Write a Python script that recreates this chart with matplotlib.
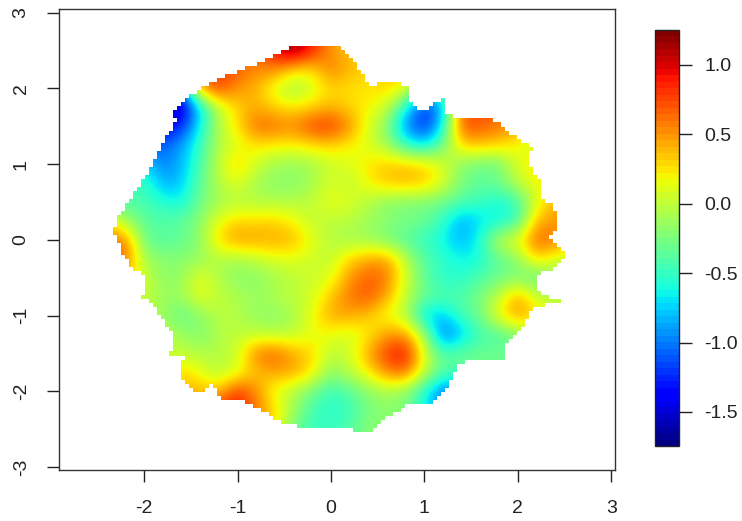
import matplotlib
matplotlib.use("Agg")
import matplotlib.pyplot as plt
from matplotlib.cm import ScalarMappable
from matplotlib.colors import Normalize
from matplotlib.path import Path
import numpy as np

plt.rcParams['font.family'] = ['Liberation Sans', 'DejaVu Sans']
plt.rcParams['axes.unicode_minus'] = False

# grid centres of the image
x_grid = [-2.4, -2.2, -2.0, -1.8, -1.6, -1.4, -1.2, -1.0, -0.8, -0.6, -0.4, -0.2, 0.0,
          0.2, 0.4, 0.6, 0.8, 1.0, 1.2, 1.4, 1.6, 1.8, 2.0, 2.2, 2.4, 2.6]
y_grid = [2.5, 2.25, 2.0, 1.75, 1.5, 1.25, 1.0, 0.75, 0.5, 0.25, 0.0, -0.25, -0.5, -0.75,
          -1.0, -1.25, -1.5, -1.75, -2.0, -2.25, -2.5]

# values, one row per y_grid entry
z_values = [
    [.5, .5, .5, .5, .5, .5, .6, .6, .6, 1.0, 1.25, .9, .5, .35, .3, .3, .3, .3, .3, .3, .3, .3, .3, .3, .3, .3],
    [.7, .7, .7, .7, .7, .7, .8, .7, .55, .55, .3, .25, .6, .4, .3, .3, .3, .3, .3, .3, .3, .3, .3, .3, .3, .3],
    [-1.2, -1.2, -1.2, -1.2, -1.2, .5, .8, .5, .4, .1, -.15, .05, .3, .25, .25, .3, .2, -.5, -.5, .5, .5, .5, .5, .5, .5, .5],
    [-1.5, -1.5, -1.5, -1.5, -1.6, -.75, 0, .3, .45, .3, .25, .3, .4, .3, .2, .05, -.6, -1.25, -.9, .7, .7, .7, .6, .5, .5, .5],
    [-1.4, -1.4, -1.4, -1.4, -1.3, -.65, -.05, .25, .65, .65, .55, .8, .85, .55, .1, -.2, -.95, -1.3, -.7, .75, .7, .6, .45, .2, .2, .2],
    [-1.1, -1.1, -1.1, -1.1, -.9, -.5, -.05, .1, .25, .2, .2, .25, .3, .2, .1, -.1, -.5, -.7, -.3, .3, .35, .3, .2, 0, 0, 0],
    [-.7, -.7, -.7, -1, -.85, -.45, 0, .35, .05, -.1, -.15, -.1, .05, .1, .25, .35, .35, .3, .1, -.2, -.3, -.3, .1, .3, .3, .3],
    [-.5, -.5, -.45, -.85, -.8, -.35, -.05, .12, -.1, -.2, -.2, -.1, .1, -.02, .2, .35, .4, .35, .1, -.25, -.35, -.3, 0, .15, .3, .3],
    [-.4, -.4, -.45, -.55, -.65, -.3, -.1, -.05, -.05, -.05, -.05, 0, .15, .12, -.05, -.2, -.25, -.25, -.3, -.4, -.5, -.6, -.5, .1, .4, .4],
    [.3, -.1, -.35, -.4, -.35, -.2, .15, .3, .3, .3, .2, 0, 0, -.05, -.1, -.2, -.25, -.3, -.5, -.9, -.7, -.65, -.5, .4, .5, .5],
    [.6, .6, -.3, -.4, -.35, -.2, .3, .5, .45, .45, .4, .15, -.05, -.1, -.15, -.25, -.4, -.5, -.65, -.85, -.6, .05, .15, .7, .6, .3],
    [.7, .7, -.1, -.2, -.2, -.15, -.05, -.1, 0, .1, .12, .05, 0, .3, .45, .5, 0, -.4, -.5, -.65, -.6, -.35, -.2, .3, .1, 0],
    [.3, .3, .1, -.2, -.15, .15, -.05, -.2, -.2, -.1, -.02, .05, .1, .5, .7, .6, .1, -.35, -.55, -.55, -.4, -.3, -.25, -.4, -.2, -.2],
    [0, 0, 0, -.1, -.15, .15, 0, -.05, -.15, -.05, 0, .05, .35, .6, .72, .45, 0, -.3, -.4, -.4, -.25, 0, .5, .05, 0, 0],
    [0, 0, 0, -.15, -.35, -.2, -.02, -.05, -.15, -.2, -.1, .15, .45, .45, .35, .12, 0, -.75, -.8, -.45, -.3, .2, .5, .3, 0, 0],
    [0, 0, 0, 0, -.1, -.25, -.05, 0, 0, -.02, 0, .15, .15, .05, .2, .5, .5, -.05, -1.1, -.8, -.45, -.45, -.25, 0, 0, 0],
    [0, 0, 0, 0, 0, -.05, -.05, .05, .6, .7, .45, .3, -.02, .05, .45, .8, 1.0, .1, -.4, -.3, -.3, -.3, -.3, 0, 0, 0],
    [0, 0, 0, 0, .35, .15, -.05, .1, .35, .45, .45, .25, -.2, -.02, .2, .55, .65, .05, -.4, -.4, -.3, -.3, -.3, 0, 0, 0],
    [0, 0, 0, 0, .4, .4, .35, .85, .55, .1, -.05, -.3, -.5, -.4, -.2, -.1, -.2, -.6, -1.05, -1.05, -.5, -.3, -.3, 0, 0, 0],
    [0, 0, 0, 0, .4, .5, .9, .95, .6, .3, -.1, -.45, -.55, -.5, -.25, -.2, -.2, -.6, -1, -1, -.5, -.3, -.3, 0, 0, 0],
    [0, 0, 0, 0, .4, .5, .6, .6, .5, .2, -.3, -.5, -.5, -.4, -.2, -.2, -.2, -.4, -.5, -.5, -.5, -.3, -.3, 0, 0, 0],
]

# outline of the coloured region
outline_x = [-.41, -.62, -.76, -1.06, -1.30, -1.43, -1.53, -1.72, -1.64, -1.80, -1.94, -2.15, -2.28, -2.32,
             -2.31, -2.21, -2.12, -1.99, -2.02, -1.92, -1.76, -1.70, -1.72, -1.58, -1.62, -1.43, -1.26, -1.22,
             -1.17, -.94, -.69, -.49, .06, .44, .56, .81, 1.06, 1.24, 1.30, 1.36, 1.86, 1.88, 2.04, 2.16, 2.47,
             2.21, 2.21, 2.42, 2.53, 2.34, 2.43, 2.38, 2.27, 2.24, 2.10, 2.15, 2.02, 1.81, 1.65, 1.31, 1.22,
             1.22, 1.13, .99, .85, .82, .60, .42, .20, .10, -.01]
outline_y = [2.56, 2.41, 2.34, 2.19, 2.05, 1.96, 1.89, 1.64, 1.59, 1.28, .93, .53, .29, .13,
             .07, -.24, -.37, -.50, -.79, -.83, -1.13, -1.26, -1.55, -1.52, -1.81, -2.03, -1.89, -2.03,
             -2.12, -2.12, -2.28, -2.45, -2.48, -2.54, -2.36, -2.19, -2.16, -1.96, -1.79, -1.62, -1.56, -1.35,
             -1.17, -.90, -.82, -.70, -.46, -.36, -.20, .03, .17, .46, .49, .75, 1.02, 1.21, 1.32, 1.52, 1.62,
             1.62, 1.66, 1.85, 1.81, 1.68, 1.79, 2.03, 2.09, 2.03, 2.41, 2.53, 2.56]

x_ticks = [-2, -1, 0, 1, 2, 3]
y_ticks = [-3, -2, -1, 0, 1, 2, 3]
bar_ticks = [-1.5, -1.0, -0.5, 0.0, 0.5, 1.0]
z_min = -1.745
z_max = 1.25

W, H = 742, 521
fig = plt.figure(figsize=(W / 100, H / 100), dpi=100)
ax = fig.add_axes([59 / W, 1 - 470 / H, (615 - 59) / W, (470 - 9) / H])

half_dx = (x_grid[1] - x_grid[0]) / 2
half_dy = (y_grid[0] - y_grid[1]) / 2
ax.imshow(np.array(z_values), cmap='jet', vmin=z_min, vmax=z_max, aspect='auto',
          interpolation='bicubic', origin='upper',
          extent=[x_grid[0] - half_dx, x_grid[-1] + half_dx, y_grid[-1] - half_dy, y_grid[0] + half_dy])

# white cover outside the outline, in coarse cells so the edge steps like the original
cell_x = np.arange(-2.912, 3.04, 0.0428)
cell_y = np.arange(-3.04, 3.05, 0.053)
xx, yy = np.meshgrid(cell_x, cell_y)
inside = Path(np.column_stack([outline_x, outline_y])).contains_points(np.column_stack([xx.ravel(), yy.ravel()]))
cover = np.ones(xx.shape + (4,))
cover[..., 3] = ~inside.reshape(xx.shape)
ax.imshow(cover, aspect='auto', interpolation='nearest', origin='lower',
          extent=[cell_x[0] - 0.0214, cell_x[-1] + 0.0214, cell_y[0] - 0.0265, cell_y[-1] + 0.0265])

ax.set_xlim(-2.912, 3.04)
ax.set_ylim(-3.04, 3.05)
ax.set_xticks(x_ticks)
ax.set_yticks(y_ticks)
ax.tick_params(axis='x', length=8.6, width=1, color='#222222', labelsize=14, labelcolor='#222222', pad=13)
ax.tick_params(axis='y', length=8.6, width=1, color='#222222', labelsize=14, labelcolor='#222222', pad=12.5)
for label in ax.get_yticklabels():
    label.set_rotation(90)
    label.set_va('center')
for spine in ax.spines.values():
    spine.set_linewidth(1)
    spine.set_color('#333333')

cax = fig.add_axes([655 / W, 1 - 446 / H, 24 / W, 416 / H])
bar_map = ScalarMappable(norm=Normalize(z_min, z_max), cmap=plt.get_cmap('jet', 64))
cb = fig.colorbar(bar_map, cax=cax, ticks=bar_ticks)
cb.ax.set_yticklabels(['%.1f' % t for t in bar_ticks])
cb.ax.tick_params(length=9.6, width=1, color='#222222', labelsize=14, labelcolor='#222222', pad=8.5)
cb.outline.set_linewidth(1)
cb.outline.set_edgecolor('#222222')

fig.savefig('out.png', dpi=100)
